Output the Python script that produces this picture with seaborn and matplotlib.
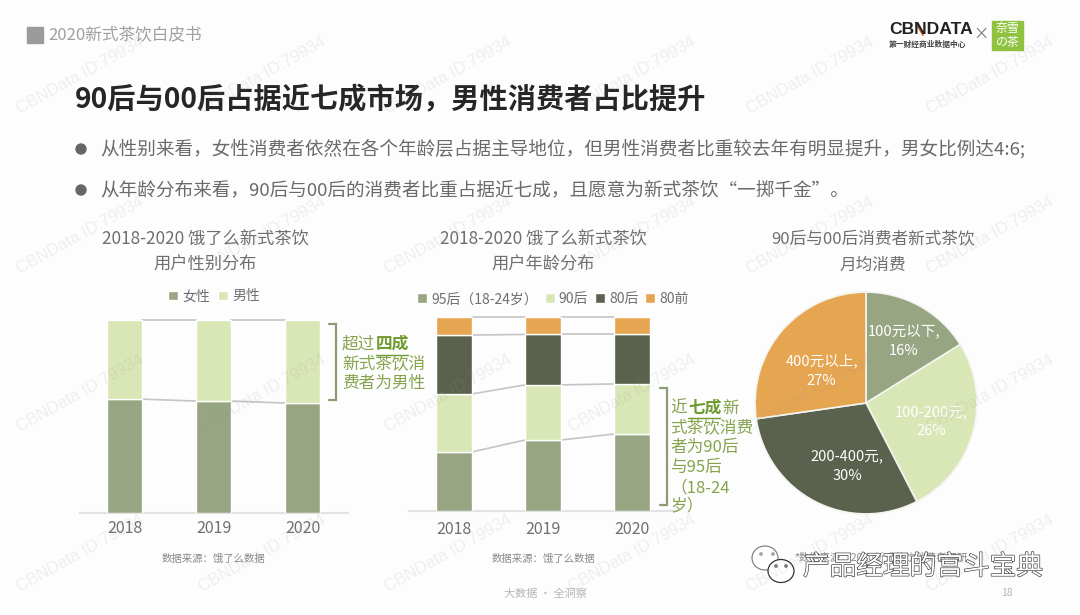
import matplotlib
matplotlib.use('Agg')
import matplotlib.pyplot as plt
import matplotlib.patheffects as pe
from matplotlib.patches import Rectangle, Ellipse
import pandas as pd
import seaborn as sns

# Data
years = ['2018', '2019', '2020']
female = [59, 58, 57]
male = [41, 42, 43]
gender_names = ['女性', '男性']

age_95 = [30.4, 36.6, 39.7]
age_90 = [29.9, 28.4, 25.8]
age_80 = [30.4, 26.0, 25.5]
age_pre80 = [9.3, 9.0, 9.0]
age_names = ['95后（18-24岁）', '90后', '80后', '80前']

spend_labels = ['100元以下,\n16%', '100-200元,\n26%', '200-400元,\n30%', '400元以上,\n27%']
spend_values = [16, 26, 30, 27]

# Colours
SAGE = '#98a583'
PALE = '#d9e6b6'
DARK = '#5a614c'
ORANGE = '#e6a550'
GREEN_TXT = '#86a44e'
GRAY_TXT = '#6f6f6f'

sns.set_theme(style='white')
plt.rcParams['font.family'] = ['Noto Sans CJK SC', 'DejaVu Sans']

W, H = 1080, 615
fig = plt.figure(figsize=(W / 100, H / 100), dpi=100, facecolor='#fdfdfd')


def px_axes(left, top, right, bottom):
    return fig.add_axes([left / W, 1 - bottom / H, (right - left) / W, (bottom - top) / H])


def stacked(ax, series, names, colors, width, pad):
    # stack with seaborn bars, then draw the thin connectors between columns
    bottom = [0, 0, 0]
    for vals, name, col in zip(series, names, colors):
        df = pd.DataFrame({'year': years, 'value': vals})
        sns.barplot(data=df, x='year', y='value', color=col, label=name, width=width,
                    bottom=bottom, saturation=1, ax=ax, zorder=3, legend=False)
        bottom = [b + v for b, v in zip(bottom, vals)]
        for i in range(2):
            ax.plot([i + width / 2, i + 1 - width / 2], [bottom[i], bottom[i + 1]],
                    color='#c4c4c4', lw=1.2, zorder=2, clip_on=False)
    ax.set_ylim(0, bottom[0])
    ax.set_xlabel('')
    ax.set_ylabel('')
    ax.set_yticks([])
    ax.patch.set_alpha(0)
    sns.despine(ax=ax, left=True)
    ax.spines['bottom'].set_color('#e3e3e3')
    ax.spines['bottom'].set_linewidth(1.5)
    ax.tick_params(axis='x', length=0, labelsize=11.5, labelcolor=GRAY_TXT, pad=pad)


# Gender chart
ax1 = px_axes(80, 320, 348, 513)
stacked(ax1, [female, male], gender_names, [SAGE, PALE], 0.39, 5)
ax1.set_xlim(-0.5, 2.51)
ax1.legend(loc='lower center', bbox_to_anchor=(0.5, 1.05), ncol=2, frameon=False, fontsize=10,
           labelcolor=GRAY_TXT, handlelength=0.7, handleheight=0.7, handletextpad=0.3,
           columnspacing=0.6, borderpad=0)

# Age chart
ax2 = px_axes(409, 317, 677, 511)
stacked(ax2, [age_95, age_90, age_80, age_pre80], age_names, [SAGE, PALE, DARK, ORANGE], 0.4, 7)
ax2.set_xlim(-0.5, 2.5)
ax2.legend(loc='lower center', bbox_to_anchor=(0.537, 1.02), ncol=4, frameon=False, fontsize=10,
           labelcolor=GRAY_TXT, handlelength=0.7, handleheight=0.7, handletextpad=0.3,
           columnspacing=0.5, borderpad=0)

# Pie chart
ax3 = px_axes(754, 292, 978, 514)
ax3.pie(spend_values, labels=spend_labels, labeldistance=None, colors=[SAGE, PALE, DARK, ORANGE],
        startangle=90, counterclock=False, radius=1,
        wedgeprops={'edgecolor': '#f4f4f0', 'linewidth': 1.2})
ax3.set_xlim(-1.01, 1.01)
ax3.set_ylim(-1.0, 1.0)
ax3.patch.set_alpha(0)
for label, x, y in zip(spend_labels, [0.34, 0.59, -0.17, -0.40], [0.56, -0.17, -0.57, 0.29]):
    ax3.text(x, y, label, ha='center', va='center', color='white', fontsize=10.5,
             linespacing=1.45, fontweight='medium')

# Overlay in pixel coordinates for all the slide text
ov = fig.add_axes([0, 0, 1, 1], facecolor='none')
ov.set_xlim(0, W)
ov.set_ylim(H, 0)
ov.axis('off')

ov.add_patch(Rectangle((27, 27), 16, 16, color='#9b9b9b'))
ov.text(48, 35, '2020新式茶饮白皮书', fontsize=12, color='#a0a0a0', va='center')
ov.text(75, 100, '90后与00后占据近七成市场，男性消费者占比提升', fontsize=20.3, fontweight='bold',
        color='#262626', va='center')
for y, line in [(149, '从性别来看，女性消费者依然在各个年龄层占据主导地位，但男性消费者比重较去年有明显提升，男女比例达4:6;'),
                (190, '从年龄分布来看，90后与00后的消费者比重占据近七成，且愿意为新式茶饮“一掷千金”。')]:
    ov.add_patch(Ellipse((81, y), 10, 10, color='#666666'))
    ov.text(100, y, line, fontsize=13.4, color='#6a6a6a', va='center')

# Chart titles
for x, size, t1, t2 in [(205, 12.4, '2018-2020 饿了么新式茶饮', '用户性别分布'),
                        (543, 12.4, '2018-2020 饿了么新式茶饮', '用户年龄分布'),
                        (873, 12, '90后与00后消费者新式茶饮', '月均消费')]:
    ov.text(x, 240, t1, fontsize=size, color=GRAY_TXT, ha='center', va='center')
    ov.text(x, 265, t2, fontsize=size, color=GRAY_TXT, ha='center', va='center')

# Brackets and green notes
for x, top, bot in [(329, 324, 400), (660, 388, 505)]:
    ov.plot([x, x + 7, x + 7, x], [top, top, bot, bot], color='#8c9a76', lw=1.6, solid_joinstyle='miter')

note = {'fontsize': 12, 'color': GREEN_TXT, 'va': 'center', 'fontweight': 'medium'}
strong = {'fontsize': 12, 'color': '#6f9a2e', 'va': 'center', 'fontweight': 'bold'}
ov.text(342, 344, '超过', **note)
ov.text(376, 344, '四成', **strong)
ov.plot([376, 408], [355, 355], color='#6f9a2e', lw=1)
ov.text(342, 364, '新式茶饮消', **note)
ov.text(342, 383, '费者为男性', **note)

ov.text(670, 408, '近', **note)
ov.text(688, 408, '七成', **strong)
ov.plot([688, 720], [418, 418], color='#6f9a2e', lw=1)
ov.text(722, 408, '新', **note)
for y, t in [(428, '式茶饮消费'), (447, '者为90后'), (467, '与95后'), (488, '（18-24'), (506, '岁）')]:
    ov.text(670, y, t, **note)

# Sources and footer
ov.text(213, 559, '数据来源：饿了么数据', fontsize=7.5, color='#8a8a8a', ha='center', va='center')
ov.text(543, 559, '数据来源：饿了么数据', fontsize=7.5, color='#8a8a8a', ha='center', va='center')
ov.text(881, 558, '*数据来源：2020新式茶饮消费者调研', fontsize=7.5, color='#8a8a8a', ha='center', va='center')
ov.text(545, 594, '大数据 · 全洞察', fontsize=8, color='#b5b5b5', ha='center', va='center')
ov.text(1007, 593, '18', fontsize=7.5, color='#b5b5b5', ha='center', va='center')

# Logos
ov.text(889, 29, 'CBNDATA', fontsize=12.6, fontweight='bold', color='#222222', va='center',
        family=['Liberation Sans', 'DejaVu Sans'])
ov.plot([916, 923], [23, 35], color='#e0602a', lw=1.4)
ov.text(889, 44, '第一财经商业数据中心', fontsize=5.6, color='#444444', va='center', fontweight='bold')
ov.text(981, 34, '×', fontsize=11, color='#777777', ha='center', va='center')
ov.add_patch(Rectangle((992, 21), 31, 29, color='#8fc23f'))
ov.text(1007.5, 35.5, '奈雪\nの茶', fontsize=8.6, color='white', ha='center', va='center', linespacing=1.05)

# Watermarks
for wy in [75, 235, 393, 553]:
    for wx in [80, 262, 448, 632, 810, 990]:
        ov.text(wx, wy, 'CBNData ID:79934', fontsize=12, rotation=29, color='#9a9a9a', alpha=0.15,
                ha='center', va='center', rotation_mode='anchor',
                family=['Liberation Sans', 'DejaVu Sans'])

# WeChat stamp
outline = [pe.withStroke(linewidth=0.9, foreground='#333333')]
ov.add_patch(Ellipse((765, 558), 26, 24, facecolor='white', edgecolor='#777777', lw=0.8))
ov.add_patch(Ellipse((781, 571), 26, 23, facecolor='white', edgecolor='#333333', lw=0.9))
for ex, ey, ec in [(761, 554, '#777777'), (773, 554, '#777777'), (776, 566, '#333333'), (786, 566, '#333333')]:
    ov.add_patch(Ellipse((ex, ey), 2.4, 2.4, facecolor='white', edgecolor=ec, lw=0.7))
ov.text(803, 567, '产品经理的宫斗宝典', fontsize=19.2, color='white', va='center', path_effects=outline)

fig.savefig('out.png', dpi=100, facecolor=fig.get_facecolor())
